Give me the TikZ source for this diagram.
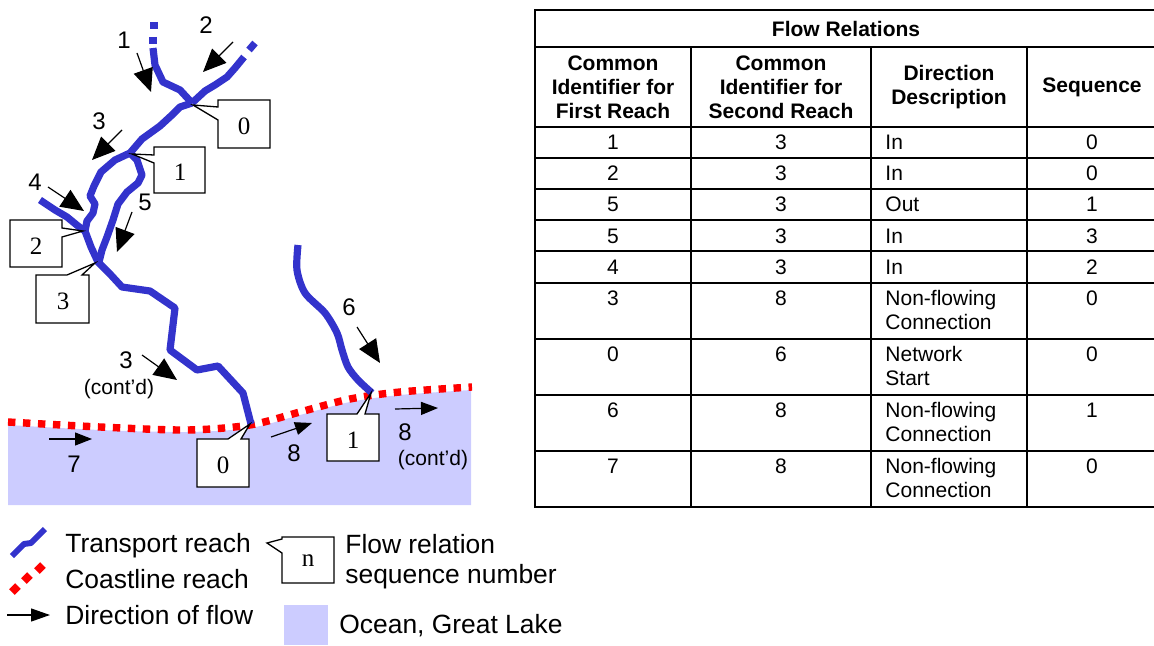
\documentclass[tikz,border=0pt]{standalone}
\usepackage{fontspec}
\setmainfont{Liberation Sans}
\newfontfamily\tnr{Liberation Serif}
\usetikzlibrary{arrows.meta}
\definecolor{rblue}{RGB}{51,51,204}
\definecolor{lake}{RGB}{204,204,255}
\begin{document}
\begin{tikzpicture}[x=0.5pt,y=-0.5pt,
 river/.style={draw=rblue,line width=3.6pt,line join=round},
 coast/.style={draw=red,line width=3.7pt,dash pattern=on 3.7pt off 3.8pt},
 flowbig/.style={-{Triangle[length=11.5pt,width=10pt]},line width=0.6pt},
 flowsmall/.style={-{Triangle[length=8.5pt,width=6.5pt]},line width=0.6pt},
 callout/.style={draw,line width=0.65pt,fill=white},
 seqnum/.style={font=\tnr\fontsize{12.5}{14}\selectfont,inner sep=0pt},
 lab/.style={font=\fontsize{12}{14}\selectfont,inner sep=0pt,text height=8.6pt,text depth=0pt},
 smalllab/.style={font=\fontsize{10.5}{12}\selectfont,inner sep=0pt},
 leg/.style={font=\fontsize{13.2}{15}\selectfont,inner sep=0pt,anchor=base west},
 cell/.style={font=\fontsize{10.5}{12}\selectfont,inner sep=0pt,text height=7.5pt,text depth=0pt},
 hcell/.style={font=\bfseries\fontsize{10.5}{12}\selectfont,inner sep=0pt,align=center},
 tline/.style={line width=1pt}
]
\useasboundingbox (0,0) rectangle (1154,646);

% ---------------- water and coastline
\fill[lake] plot[smooth] coordinates {(8,425) (100,430) (187,432) (250,428) (300,415) (350,402) (400,395) (471,390)} -- (471,505) -- (8,505) -- cycle;
\draw[coast] plot[smooth] coordinates {(8,422) (100,427) (187,430) (250,425) (300,412) (350,399) (400,392) (472,387)};

% ---------------- transport reaches
\draw[river] (154,22) -- (154,29);
\draw[river] (153,37) -- (153,44);
\draw[river] (255,43) -- (249,50);
\draw[river] (153,48) -- (155,65) -- (163,82) -- (180,90) -- (192,103);
\draw[river] (244,57) -- (235,68) -- (227,77) -- (215,85) -- (205,91) -- (192,103);
\draw[river] (192,103) -- (180,107) -- (172,115) -- (160,126) -- (142,139) -- (130,153) -- (115,160) -- (101,172) -- (94,186) -- (90,196) -- (95,204) -- (93,213) -- (87,221) -- (85,231) -- (91,247) -- (98,262) -- (110,274) -- (122,287) -- (150,291) -- (175,308) -- (170,350) -- (197,370) -- (218,366) -- (243,393) -- (251,424);
\draw[river] (130,153) -- (137,160) -- (142,175) -- (138,183) -- (127,192) -- (118,204) -- (113,220) -- (107,237) -- (102,250) -- (99,262);
\draw[river] (40,200) -- (55,210) -- (67,217) -- (78,226) -- (85,231);
\draw[river] plot[smooth,tension=0.5] coordinates {(298,245) (297,270) (305,293) (325,313) (337,333) (342,350) (348,367) (358,380) (372,393)};

% ---------------- flow relation callouts
\draw[callout] (218,100) -- (270,100) -- (270,148) -- (218,148) -- (218,120) -- (193,105) -- (218,107) -- cycle;
\node[seqnum] (s0a) at (244,126) {0};
\draw[callout] (154,147) -- (205,147) -- (205,193) -- (154,193) -- (154,163) -- (132,154) -- (154,155) -- cycle;
\node[seqnum] (s1a) at (180,172) {1};
\draw[callout] (10,220) -- (62,220) -- (62,228) -- (83,231) -- (62,237) -- (62,267) -- (10,267) -- cycle;
\node[seqnum] (s2a) at (36,246) {2};
\draw[callout] (36,275) -- (67,275) -- (95,263) -- (82,275) -- (89,275) -- (89,323) -- (36,323) -- cycle;
\node[seqnum] (s3a) at (63,301) {3};
\draw[callout] (197,439) -- (228,439) -- (250,424) -- (241,439) -- (249,439) -- (249,487) -- (197,487) -- cycle;
\node[seqnum] (s0b) at (223,465) {0};
\draw[callout] (327,414) -- (357,414) -- (371,393) -- (365,414) -- (379,414) -- (379,461) -- (327,461) -- cycle;
\node[seqnum] (s1b) at (353,440) {1};

% ---------------- flow arrows
\draw[flowbig] (137,53) -- (151,92);
\draw[flowbig] (233,42) -- (203,72);
\draw[flowbig] (122,130) -- (92,160);
\draw[flowbig] (48,187) -- (84,211);
\draw[flowbig] (132,212) -- (117,252);
\draw[flowbig] (357,327) -- (380,363);
\draw[flowbig] (142,355) -- (177,380);
\draw[flowsmall] (49,439) -- (92,439);
\draw[flowsmall] (271,437) -- (312,423);
\draw[flowsmall] (395,409) -- (438,408);

% ---------------- reach labels
\node[lab] (l1) at (124,40) {1};
\node[lab] (l2) at (206,25) {2};
\node[lab] (l3) at (99,121) {3};
\node[lab] (l4) at (35,182) {4};
\node[lab] (l5) at (145,202) {5};
\node[lab] (l6) at (349,307) {6};
\node[lab] (l3c) at (126,360) {3};
\node[smalllab] (c3c) at (119,389) {(cont'd)};
\node[lab] (l7) at (74,464) {7};
\node[lab] (l8) at (294,453) {8};
\node[lab] (l8c) at (405,432) {8};
\node[smalllab] (c8c) at (433,460) {(cont'd)};

% ---------------- legend
\draw[river,line width=3pt] (12,556) -- (24,544) -- (31,543) -- (45,529);
\draw[red,line width=4pt] (12,592) -- (18,586);
\draw[red,line width=4pt] (24,581) -- (30,575);
\draw[red,line width=4pt] (37,571) -- (43,565);
\draw[-{Triangle[length=9.5pt,width=6.5pt]},line width=0.6pt] (7,615) -- (50,615);
\node[leg] (tr) at (65,552) {Transport reach};
\node[leg] (cr) at (65,588) {Coastline reach};
\node[leg] (df) at (65,624) {Direction of flow};
\draw[callout] (282,537) -- (334,537) -- (334,583) -- (282,583) -- (282,553) -- (267,543) -- (282,539) -- cycle;
\node[seqnum] (sn) at (308,561) {n};
\node[leg] (fr) at (345,553) {Flow relation};
\node[leg] (sq) at (345,583) {sequence number};
\fill[lake] (284,605) rectangle (328,645);
\node[leg] (og) at (339,633) {Ocean, Great Lake};

% ---------------- table
\draw[tline] (535,10) rectangle (1157,507);
\foreach \yy in {46.7,126.7,157.7,189,220,251.5,283,339,395,451}
  \draw[tline] (535,\yy) -- (1157,\yy);
\foreach \xx in {691,871,1027}
  \draw[tline] (\xx,46.7) -- (\xx,507);
\node[hcell] (h0) at (846,29) {Flow Relations};
\node[hcell] (h1) at (613,87) {Common\\Identifier for\\First Reach};
\node[hcell] (h2) at (781,87) {Common\\Identifier for\\Second Reach};
\node[hcell] (h3) at (949,87) {Direction\\Description};
\node[hcell] (h4) at (1092,87) {Sequence};

\foreach \yy/\a/\b/\c/\d [count=\i] in {142/1/3/In/0,173/2/3/In/0,204.5/5/3/Out/1,236/5/3/In/3,267/4/3/In/2}{
  \node[cell] (ra\i) at (613,\yy) {\a};
  \node[cell] (rb\i) at (781,\yy) {\b};
  \node[cell,anchor=west] (rc\i) at (885,\yy) {\c};
  \node[cell] (rd\i) at (1092,\yy) {\d};
}
\foreach \yy/\a/\b/\c/\e/\d [count=\i] in {298/3/8/Non-flowing/Connection/0,354/0/6/Network/Start/0,410/6/8/Non-flowing/Connection/1,466/7/8/Non-flowing/Connection/0}{
  \node[cell] (qa\i) at (613,\yy) {\a};
  \node[cell] (qb\i) at (781,\yy) {\b};
  \node[cell,anchor=west] (qc\i) at (885,\yy) {\c};
  \node[cell,anchor=west] (qe\i) at (885,\yy+24) {\e};
  \node[cell] (qd\i) at (1092,\yy) {\d};
}
\end{tikzpicture}
\end{document}
